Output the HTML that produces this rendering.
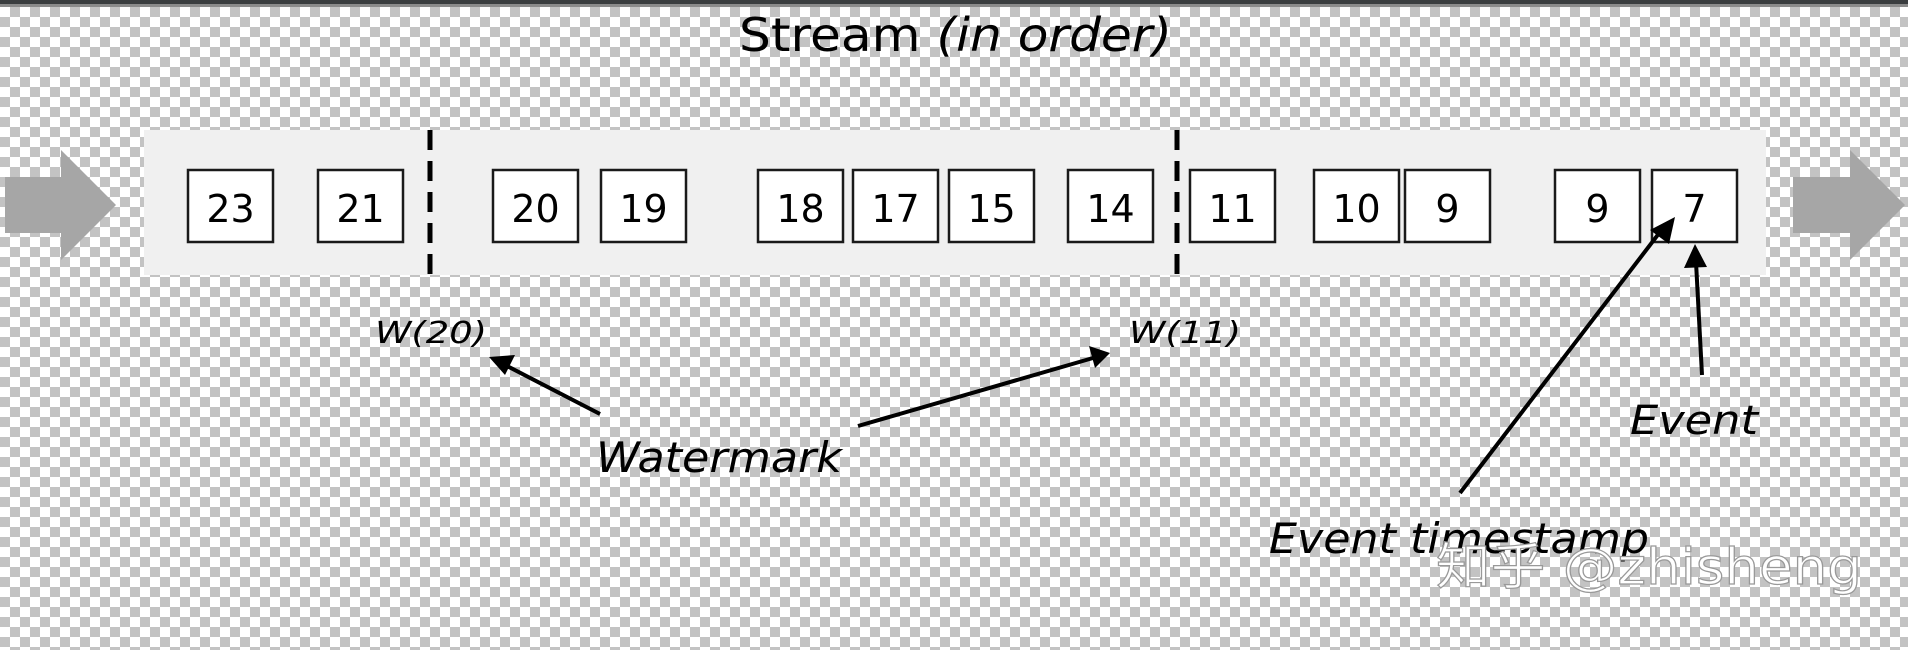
<!DOCTYPE html>
<html><head><meta charset="utf-8"><style>
html,body{margin:0;padding:0;width:1908px;height:650px;overflow:hidden;background:#fff}
svg{display:block}
text{font-family:"DejaVu Sans","Liberation Sans",sans-serif}
</style></head><body>
<svg width="1908" height="650" viewBox="0 0 1908 650" xmlns="http://www.w3.org/2000/svg">
<defs>
<pattern id="ck" x="0" y="7" width="20" height="20" patternUnits="userSpaceOnUse">
<rect width="20" height="20" fill="#ffffff"/>
<rect x="10" y="0" width="10" height="10" fill="#c3c3c3"/>
<rect x="0" y="10" width="10" height="10" fill="#c3c3c3"/>
</pattern>
</defs>
<rect width="1908" height="650" fill="url(#ck)"/>
<rect x="0" y="0" width="1908" height="4" fill="#3a3d3f"/>
<rect x="0" y="4" width="1908" height="3" fill="#8a8a8a"/>

<text x="739" y="51" font-size="46" fill="#000" textLength="433" lengthAdjust="spacingAndGlyphs">Stream <tspan font-style="italic">(in order)</tspan></text>

<rect x="144" y="130" width="1622" height="145" fill="#f0f0f0"/>

<polygon points="5,177 61,177 61,150 116,205 61,260 61,233 5,233" fill="#a6a6a6"/>
<polygon points="1793,177 1850,177 1850,150 1905,205 1850,260 1850,233 1793,233" fill="#a6a6a6"/>

<g fill="#fff" stroke="#1a1a1a" stroke-width="2.5">
<rect x="188" y="170" width="85" height="72"/>
<rect x="318" y="170" width="85" height="72"/>
<rect x="493" y="170" width="85" height="72"/>
<rect x="601" y="170" width="85" height="72"/>
<rect x="758" y="170" width="85" height="72"/>
<rect x="853" y="170" width="85" height="72"/>
<rect x="949" y="170" width="85" height="72"/>
<rect x="1068" y="170" width="85" height="72"/>
<rect x="1190" y="170" width="85" height="72"/>
<rect x="1314" y="170" width="85" height="72"/>
<rect x="1405" y="170" width="85" height="72"/>
<rect x="1555" y="170" width="85" height="72"/>
<rect x="1652" y="170" width="85" height="72"/>
</g>
<g font-size="38" fill="#000" text-anchor="middle">
<text x="230.5" y="222">23</text>
<text x="360.5" y="222">21</text>
<text x="535.5" y="222">20</text>
<text x="643.5" y="222">19</text>
<text x="800.5" y="222">18</text>
<text x="895.5" y="222">17</text>
<text x="991.5" y="222">15</text>
<text x="1110.5" y="222">14</text>
<text x="1232.5" y="222">11</text>
<text x="1356.5" y="222">10</text>
<text x="1447.5" y="222">9</text>
<text x="1597.5" y="222">9</text>
<text x="1694.5" y="222">7</text>
</g>

<g stroke="#000" stroke-width="5" stroke-dasharray="20,11">
<line x1="430" y1="130" x2="430" y2="280"/>
<line x1="1177" y1="130" x2="1177" y2="280"/>
</g>

<g font-style="italic" fill="#000">
<text x="375" y="343" font-size="30" textLength="112" lengthAdjust="spacingAndGlyphs">W(20)</text>
<text x="1129" y="343" font-size="30" textLength="112" lengthAdjust="spacingAndGlyphs">W(11)</text>
<text x="596" y="472" font-size="42" textLength="246" lengthAdjust="spacingAndGlyphs">Watermark</text>
<text x="1630" y="434" font-size="40" textLength="128" lengthAdjust="spacingAndGlyphs">Event</text>
<text x="1269" y="553" font-size="42" textLength="380" lengthAdjust="spacingAndGlyphs">Event timestamp</text>
</g>

<g stroke="#000" stroke-width="4" fill="none">
<line x1="600" y1="414" x2="505" y2="365"/>
<line x1="858" y1="426" x2="1093" y2="358"/>
<line x1="1460" y1="493" x2="1660" y2="232"/>
<line x1="1702" y1="375" x2="1696" y2="262"/>
</g>
<g fill="#000">
<polygon points="489,357 515,355 505,375"/>
<polygon points="1110,353 1089,346 1095,368"/>
<polygon points="1675,217 1650,230 1669,244"/>
<polygon points="1695,244 1684,268 1707,267"/>
</g>

<text x="1436" y="584" font-size="50" fill="#fff" stroke="#999" stroke-width="1.2" textLength="426" lengthAdjust="spacingAndGlyphs" style="font-family:'DejaVu Sans','Noto Sans CJK SC',sans-serif">知乎 @zhisheng</text>
</svg>
</body></html>
